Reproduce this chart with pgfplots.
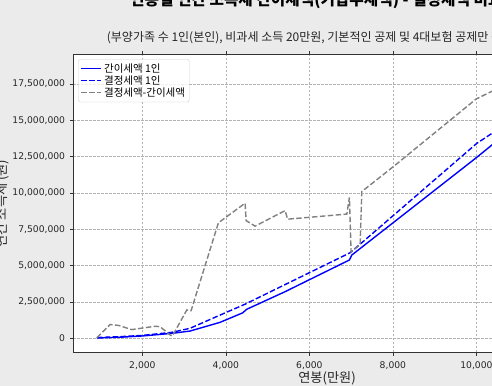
\documentclass[border=0pt]{standalone}
\usepackage{fontspec}
\setmainfont{DejaVu Sans}
\newfontfamily\kr{Noto Sans CJK KR}
\usepackage{pgfplots}
\pgfplotsset{compat=1.18}
\definecolor{figbg}{HTML}{EBEBEB}
\definecolor{lgray}{HTML}{808080}
\begin{document}
\begin{tikzpicture}
\fill[figbg] (0,0) rectangle (492bp,386bp);
\begin{axis}[
  at={(73.3bp,33.7bp)}, anchor=south west,
  scale only axis, width=507.5bp, height=297.6bp,
  xmin=345, xmax=12500, ymin=-963000, ymax=19520000,
  axis background/.style={fill=white},
  axis line style={black!80, line width=0.9bp},
  tick align=outside, major tick length=3.5bp,
  tick style={black!80, line width=0.8bp},
  xtick={2000,4000,6000,8000,10000,12000},
  ytick={0,2500000,5000000,7500000,10000000,12500000,15000000,17500000},
  scaled ticks=false,
  /pgf/number format/fixed, /pgf/number format/precision=0,
  /pgf/number format/1000 sep={,}, /pgf/number format/assume math mode=true,
  grid=major, grid style={black!30, dash pattern=on 2.5bp off 1.5bp, line width=0.6bp},
  ticklabel style={font=\fontsize{9.2bp}{11bp}\selectfont, text=black!85},
  yticklabel style={inner sep=0pt, xshift=-4.5bp},
  xticklabel style={inner sep=0pt, yshift=-5.5bp},
  xlabel={\kr 연봉(만원)},
  ylabel={\kr 연간 소득세 (원)},
  label style={font=\fontsize{13.2bp}{15bp}\selectfont, text=black!85},
  xlabel style={at={(axis description cs:0.5,0)}, anchor=center, yshift=-26.4bp},
  ylabel style={at={(axis description cs:0,0.5)}, anchor=center, xshift=0bp, yshift=70.8bp},
  legend style={at={(0,1)}, anchor=north west, xshift=5bp, yshift=-4.6bp,
    draw=black!20, rounded corners=2bp, fill=white, fill opacity=0.8, text opacity=1,
    font=\kr\fontsize{10.5bp}{12bp}\selectfont, inner sep=2.2bp, row sep=-2.2bp,
    cells={anchor=west}},
  legend image code/.code={\draw[#1] (0bp,0bp) -- (20bp,0bp);},
]
\addplot[blue, line width=1.4bp] coordinates {
(908,20000) (1500,80000) (2000,160000) (2704,340000) (3142,500000) (3861,1100000)
(4400,1750000) (4500,2000000) (5418,3210000) (6958,5390000) (7015,5730000)
(10010,12460000) (10369,13300000) (10600,13850000)
};
\addlegendentry{간이세액 1인}
\addplot[blue, line width=1.4bp, dash pattern=on 5.5bp off 2.4bp] coordinates {
(908,50000) (1500,120000) (2000,200000) (2704,410000) (3142,690000) (3861,1600000)
(4460,2350000) (6975,5890000) (7215,6480000) (10010,13420000) (10369,14100000) (10600,14650000)
};
\addlegendentry{결정세액 1인}
\addplot[lgray, line width=1.4bp, dash pattern=on 5.5bp off 2.4bp] coordinates {
(908,40000) (1226,950000) (1425,890000) (1746,600000) (2304,830000) (2424,800000)
(2664,230000) (2719,160000) (3063,1950000) (3166,1900000) (3820,7950000)
(4460,9300000) (4484,8100000) (4699,7720000) (5418,8790000) (5478,8200000)
(6896,8550000) (6958,9700000) (6998,5960000) (7215,6450000) (7255,10100000)
(8012,11820000) (9993,16470000) (10369,17000000) (10600,17350000)
};
\addlegendentry{결정세액-간이세액}
\end{axis}
\node[anchor=base west, inner sep=0pt, font=\kr\bfseries\fontsize{15.7bp}{17bp}\selectfont]
  at (130bp,380bp) {연봉별 연간 소득세 간이세액(기납부세액) - 결정세액 비교};
\node[anchor=west, inner sep=0pt, font=\kr\fontsize{12bp}{14bp}\selectfont, text=black!85]
  at (106.7bp,348.3bp) {(부양가족 수 1인(본인), 비과세 소득 20만원, 기본적인 공제 및 4대보험 공제만 적용)};
\pgfresetboundingbox
\useasboundingbox (0,0) rectangle (492bp,386bp);
\end{tikzpicture}
\end{document}
